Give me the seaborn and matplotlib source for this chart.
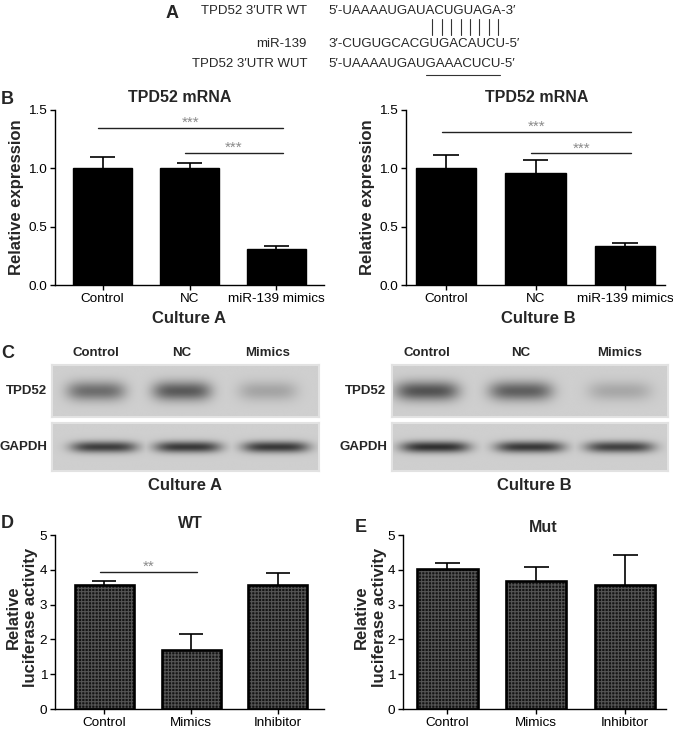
import numpy as np
import pandas as pd
import matplotlib
matplotlib.use("Agg")
import matplotlib.pyplot as plt
import seaborn as sns

# ---------------- data ----------------
mrna_groups = ["Control", "NC", "miR-139 mimics"]
mrna_A_mean = [1.00, 1.00, 0.305]
mrna_A_err = [0.10, 0.05, 0.028]
mrna_B_mean = [1.00, 0.962, 0.337]
mrna_B_err = [0.115, 0.11, 0.027]
sig_mrna_A = [(0, 2, 1.348, "***"), (1, 2, 1.134, "***")]
sig_mrna_B = [(0, 2, 1.314, "***"), (1, 2, 1.129, "***")]

luc_groups = ["Control", "Mimics", "Inhibitor"]
luc_WT_mean = [3.56, 1.70, 3.55]
luc_WT_err = [0.12, 0.46, 0.35]
luc_Mut_mean = [4.02, 3.68, 3.56]
luc_Mut_err = [0.18, 0.39, 0.86]
sig_luc_WT = [(0, 1, 3.95, "**")]

blot_lanes = ["Control", "NC", "Mimics"]
tpd52_A = [0.55, 0.66, 0.24]
gapdh_A = [0.82, 0.85, 0.85]
tpd52_B = [0.70, 0.63, 0.22]
gapdh_B = [0.90, 0.85, 0.80]

seq_labels = ["TPD52 3\u2032UTR WT", "miR-139", "TPD52 3\u2032UTR WUT"]
seq_wt = "5\u2032-UAAAAUGAUACUGUAGA-3\u2032"
seq_mir = "3\u2032-CUGUGCACGUGACAUCU-5\u2032"
seq_wut = "5\u2032-UAAAAUGAUGAAACUCU-5\u2032"
pair_start, pair_len = 12, 8

# ---------------- style ----------------
sns.set_style("ticks")
plt.rcParams["font.family"] = ["Liberation Sans", "DejaVu Sans"]
plt.rcParams["hatch.linewidth"] = 0.8

W, H = 673, 730
fig = plt.figure(figsize=(W / 100, H / 100), dpi=100)
fig.patch.set_facecolor("white")


def fx(x):
    return x / W


def fy(y):
    return 1 - y / H


def add_ax(x0, y0, x1, y1):
    return fig.add_axes([x0 / W, 1 - y1 / H, (x1 - x0) / W, (y1 - y0) / H])


def ftext(x, y, s, **kw):
    kw.setdefault("ha", "center")
    kw.setdefault("va", "center")
    return fig.text(fx(x), fy(y), s, **kw)


TICK_FS = 9.7
BW = 0.68
CAP = 0.14


def bar_panel(ax, groups, means, errs, xlim, ylim, yticks, ylabels, textured, sigs):
    df = pd.DataFrame({"group": groups, "value": means})
    if textured:
        sns.barplot(data=df, x="group", y="value", ax=ax, color="#141414",
                    saturation=1, width=BW, errorbar=None, linewidth=0)
        for p in ax.patches:
            p.set_hatch("+++++")
            p.set_edgecolor("#545454")
            p.set_linewidth(0)
        sns.barplot(data=df, x="group", y="value", ax=ax, color="black",
                    fill=False, width=BW, errorbar=None, linewidth=1.9)
    else:
        sns.barplot(data=df, x="group", y="value", ax=ax, color="black",
                    saturation=1, width=BW, errorbar=None, linewidth=1,
                    edgecolor="black")
    xs = np.arange(len(groups))
    tops = np.array(means) + np.array(errs)
    ax.vlines(xs, means, tops, color="black", lw=1.2, zorder=4)
    ax.hlines(tops, xs - CAP, xs + CAP, color="black", lw=1.2, zorder=4)
    for i, j, h, stars in sigs:
        ax.plot([i - 0.05, j + 0.07], [h, h], color="#222222", lw=1.0, zorder=4)
        ax.annotate(stars, xy=((i + j) / 2 + 0.01, h), xytext=(0, 0.5),
                    textcoords="offset points", ha="center", va="baseline",
                    fontsize=11, color="#8a8a8a")
    ax.set_xlim(*xlim)
    ax.set_ylim(*ylim)
    ax.set_yticks(yticks)
    ax.set_yticklabels(ylabels)
    ax.set_xlabel("")
    ax.set_ylabel("")
    sns.despine(ax=ax)
    for s in ["left", "bottom"]:
        ax.spines[s].set_linewidth(1.0)
        ax.spines[s].set_color("black")
    ax.tick_params(axis="both", length=3.6, width=1.0, pad=2,
                   labelsize=TICK_FS, colors="black")
    ax.set_facecolor("none")


# ---------------- panel A ----------------
seq_fs = 9.5
x_seq = 328
label_right = 307
ys_seq = [11, 44, 64]
for lab, seq, y in zip(seq_labels, [seq_wt, seq_mir, seq_wut], ys_seq):
    ftext(label_right, y, lab, ha="right", fontsize=seq_fs)
    ftext(x_seq, y, seq, ha="left", fontsize=seq_fs)
ftext(166, 13, "A", ha="left", fontsize=13, fontweight="bold")

fig.canvas.draw()
renderer = fig.canvas.get_renderer()


def tw(s):
    t = fig.text(0, 0, s, fontsize=seq_fs)
    w = t.get_window_extent(renderer=renderer).width
    t.remove()
    return w


for k in range(pair_len):
    idx = pair_start + k
    c1 = x_seq + tw(seq_wt[:idx]) + tw(seq_wt[idx]) / 2
    c2 = x_seq + tw(seq_mir[:idx]) + tw(seq_mir[idx]) / 2
    cx = (c1 + c2) / 2
    fig.add_artist(plt.Line2D([fx(cx), fx(cx)], [fy(19), fy(35)],
                              transform=fig.transFigure, color="#333333", lw=0.8))
u0 = x_seq + tw(seq_wut[:pair_start])
u1 = x_seq + tw(seq_wut[:pair_start + pair_len])
fig.add_artist(plt.Line2D([fx(u0), fx(u1)], [fy(75), fy(75)],
                          transform=fig.transFigure, color="#333333", lw=0.8))

# ---------------- panel B ----------------
axBL = add_ax(55, 110, 324, 285)
bar_panel(axBL, mrna_groups, mrna_A_mean, mrna_A_err, (-0.546, 2.546), (0, 1.5),
          [0, 0.5, 1.0, 1.5], ["0.0", "0.5", "1.0", "1.5"], False, sig_mrna_A)
axBR = add_ax(406, 110, 665, 285)
bar_panel(axBR, mrna_groups, mrna_B_mean, mrna_B_err, (-0.447, 2.447), (0, 1.5),
          [0, 0.5, 1.0, 1.5], ["0.0", "0.5", "1.0", "1.5"], False, sig_mrna_B)

ftext(1, 99, "B", ha="left", fontsize=13, fontweight="bold")
ftext(180, 98, "TPD52 mRNA", fontsize=11.5, fontweight="bold")
ftext(537, 98, "TPD52 mRNA", fontsize=11.5, fontweight="bold")
ftext(17, 197, "Relative expression", rotation=90, fontsize=12, fontweight="bold")
ftext(368, 197, "Relative expression", rotation=90, fontsize=12, fontweight="bold")
ftext(189, 319, "Culture A", fontsize=12, fontweight="bold")
ftext(538, 319, "Culture B", fontsize=12, fontweight="bold")

# ---------------- panel C (blots) ----------------


def blot(ax, centers, intens, half_w, half_h):
    nx, ny = 500, 100
    xs = np.linspace(0, 1, nx)
    ys = np.linspace(0, 1, ny)
    X, Y = np.meshgrid(xs, ys)
    dark = np.zeros_like(X)
    for c, v in zip(centers, intens):
        prof = v * np.exp(-((X - c) / half_w) ** 4) * np.exp(-((Y - 0.5) / half_h) ** 2)
        dark = np.maximum(dark, prof)
    bg = 0.81
    img = bg - (bg - 0.12) * dark
    ax.imshow(img, cmap="gray", vmin=0, vmax=1, extent=(0, 1, 0, 1),
              aspect="auto", interpolation="bilinear", origin="lower")
    ax.set_xlim(0, 1)
    ax.set_ylim(0, 1)
    ax.set_xticks([])
    ax.set_yticks([])
    for s in ax.spines.values():
        s.set_color("#e2e2e2")
        s.set_linewidth(1.5)


A_box = (52, 319)
B_box = (392, 668)
cen_tpd_A = [0.165, 0.487, 0.809]
cen_gap_A = [0.195, 0.509, 0.839]
cen_tpd_B = [0.127, 0.467, 0.826]
cen_gap_B = [0.156, 0.50, 0.826]

ax_tA = add_ax(A_box[0], 365, A_box[1], 417)
blot(ax_tA, cen_tpd_A, tpd52_A, 0.11, 0.19)
ax_gA = add_ax(A_box[0], 423, A_box[1], 471)
blot(ax_gA, cen_gap_A, gapdh_A, 0.125, 0.12)
ax_tB = add_ax(B_box[0], 365, B_box[1], 417)
blot(ax_tB, cen_tpd_B, tpd52_B, 0.115, 0.19)
ax_gB = add_ax(B_box[0], 423, B_box[1], 471)
blot(ax_gB, cen_gap_B, gapdh_B, 0.125, 0.12)

ftext(1, 353, "C", ha="left", fontsize=13, fontweight="bold")
for box, cens in [(A_box, cen_tpd_A), (B_box, cen_tpd_B)]:
    for lane, c in zip(blot_lanes, cens):
        ftext(box[0] + c * (box[1] - box[0]), 353, lane, fontsize=9.5, fontweight="bold")
ftext(47, 391, "TPD52", ha="right", fontsize=9.5, fontweight="bold")
ftext(47, 447, "GAPDH", ha="right", fontsize=9.5, fontweight="bold")
ftext(386, 391, "TPD52", ha="right", fontsize=9.5, fontweight="bold")
ftext(387, 447, "GAPDH", ha="right", fontsize=9.5, fontweight="bold")
ftext(185, 486, "Culture A", fontsize=12, fontweight="bold")
ftext(534, 486, "Culture B", fontsize=12, fontweight="bold")

# ---------------- panels D, E ----------------
axD = add_ax(55, 535, 324, 709)
bar_panel(axD, luc_groups, luc_WT_mean, luc_WT_err, (-0.566, 2.53), (0, 5),
          [0, 1, 2, 3, 4, 5], ["0", "1", "2", "3", "4", "5"], True, sig_luc_WT)
axE = add_ax(403, 535, 666, 709)
bar_panel(axE, luc_groups, luc_Mut_mean, luc_Mut_err, (-0.5, 2.46), (0, 5),
          [0, 1, 2, 3, 4, 5], ["0", "1", "2", "3", "4", "5"], True, [])

ftext(1, 524, "D", ha="left", fontsize=13, fontweight="bold")
ftext(355, 527, "E", ha="left", fontsize=13, fontweight="bold")
ftext(190, 524, "WT", fontsize=11.5, fontweight="bold")
ftext(543, 527, "Mut", fontsize=11.5, fontweight="bold")
ftext(22, 617, "Relative\nluciferase activity", rotation=90, fontsize=12,
      fontweight="bold", linespacing=1.25)
ftext(370, 617, "Relative\nluciferase activity", rotation=90, fontsize=12,
      fontweight="bold", linespacing=1.25)

fig.savefig("out.png", dpi=100, facecolor="white")
